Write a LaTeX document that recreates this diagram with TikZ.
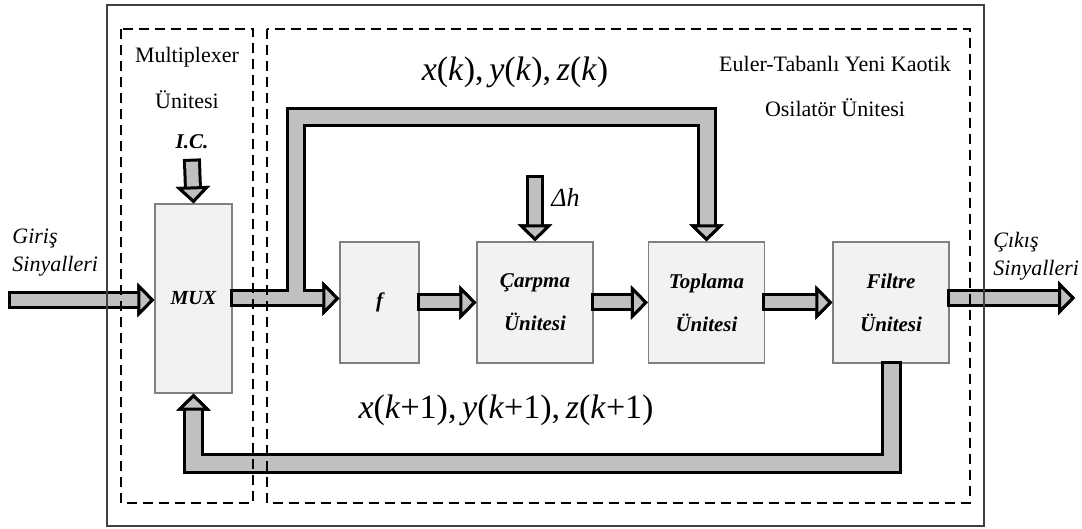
\documentclass[tikz,border=0pt]{standalone}
\usepackage{fontspec}
\setmainfont{Liberation Serif}
\usetikzlibrary{arrows.meta, positioning}

\definecolor{okgri}{RGB}{192,192,192}
\definecolor{blokgri}{RGB}{242,242,242}

\tikzset{
  blok/.style={draw=black!50, line width=0.6pt, fill=blokgri, inner sep=0pt, align=center,
    font=\fontsize{10.5}{21.5}\selectfont\bfseries\itshape},
  uc/.style={-{Triangle[width=17pt, length=8.5pt, line width=1.5pt, fill=okgri, color=black]}},
  ok/.style={uc, draw=okgri, line width=6pt, preaction={draw=black, line width=9pt, shorten <=-1.5pt}},
  genisok/.style={uc, draw=okgri, line width=7.5pt, preaction={draw=black, line width=10.5pt, shorten <=-1.5pt}},
  dal/.style={uc, draw=okgri, line width=7pt, preaction={draw=black, line width=10pt, shorten <=4.5pt}},
  kesik/.style={line width=1.4pt, dash pattern=on 5pt off 3pt},
  cerceve/.style={draw=black!75, line width=0.6pt},
  yazi/.style={inner sep=0pt, font=\fontsize{11}{22}\selectfont},
}

\begin{document}
\begin{tikzpicture}[x=0.5pt, y=-0.5pt]
\useasboundingbox (0,0) rectangle (1082,529);

% bloklar
\node[blok, minimum width=38.5pt, minimum height=94.5pt] (mux) at (193.5,298.5) {\fontsize{10}{12}\selectfont MUX};
\node[blok, minimum width=39.5pt, minimum height=60.5pt] (f) at (379.5,302.5) {f};
\foreach \ad/\x/\metin in {carpma/535/Çarpma, toplama/706.5/Toplama, filtre/891/Filtre} {
  \node[blok, minimum width=58pt, minimum height=60.5pt] (\ad) at (\x,302.5) {\metin\\Ünitesi};
}

% oklar
\coordinate (giris) at (11,300);
\coordinate (cikis) at (1075,298);
\coordinate (kol) at (295.5,0 |- mux.east);
\draw[ok] (giris) -- (giris -| mux.west);
\draw[ok] (mux.east) -- (mux.east -| f.west);
\draw[dal] (kol) -- (kol |- 0,117) -| (toplama.north);
\draw[ok] (f.east) -- (carpma.west);
\draw[ok] (carpma.east) -- (toplama.west);
\draw[ok] (toplama.east) -- (filtre.west);
\draw[ok] (filtre.east |- cikis) -- (cikis);
\draw[genisok] (filtre.south) -- (filtre.south |- 0,463) -| (mux.south);

% giris etiketleri
\node[blok, draw=none, fill=none] (ic) at (192,142) {I.C.};
\draw[ok] ([yshift=-6pt]ic.south) -- (mux.north);
\node[yazi, anchor=west] (dh) at (551,197) {\fontsize{13}{15}\selectfont\textit{Δh}};
\draw[ok] (carpma.north |- 0,178) -- (carpma.north);

% cerceveler
\draw[cerceve] (107,5) rectangle (984,526);
\draw[kesik] (121,29) rectangle (253,503);
\draw[kesik] (267,29) rectangle (970,503);

% yazilar
\node[yazi, align=left, anchor=north west, font=\fontsize{11}{14}\selectfont\itshape] at (12,229) {Giriş\\Sinyalleri};
\node[yazi, align=left, anchor=north west, font=\fontsize{11}{14}\selectfont\itshape] at (993,232) {Çıkış\\Sinyalleri};
\node[yazi, align=center, font=\fontsize{11}{23}\selectfont] at (187,78) {Multiplexer\\Ünitesi};
\node[yazi, align=center, font=\fontsize{11}{22.5}\selectfont] at (835,86) {Euler-Tabanlı Yeni Kaotik\\Osilatör Ünitesi};
\node[yazi, font=\fontsize{17}{20}\selectfont] at (515,72)
  {\textit{x}(\textit{k}),\,\textit{y}(\textit{k}),\,\textit{z}(\textit{k})};
\node[yazi, font=\fontsize{17}{20}\selectfont] at (506,410)
  {\textit{x}(\textit{k}+1),\,\textit{y}(\textit{k}+1),\,\textit{z}(\textit{k}+1)};
\end{tikzpicture}
\end{document}
